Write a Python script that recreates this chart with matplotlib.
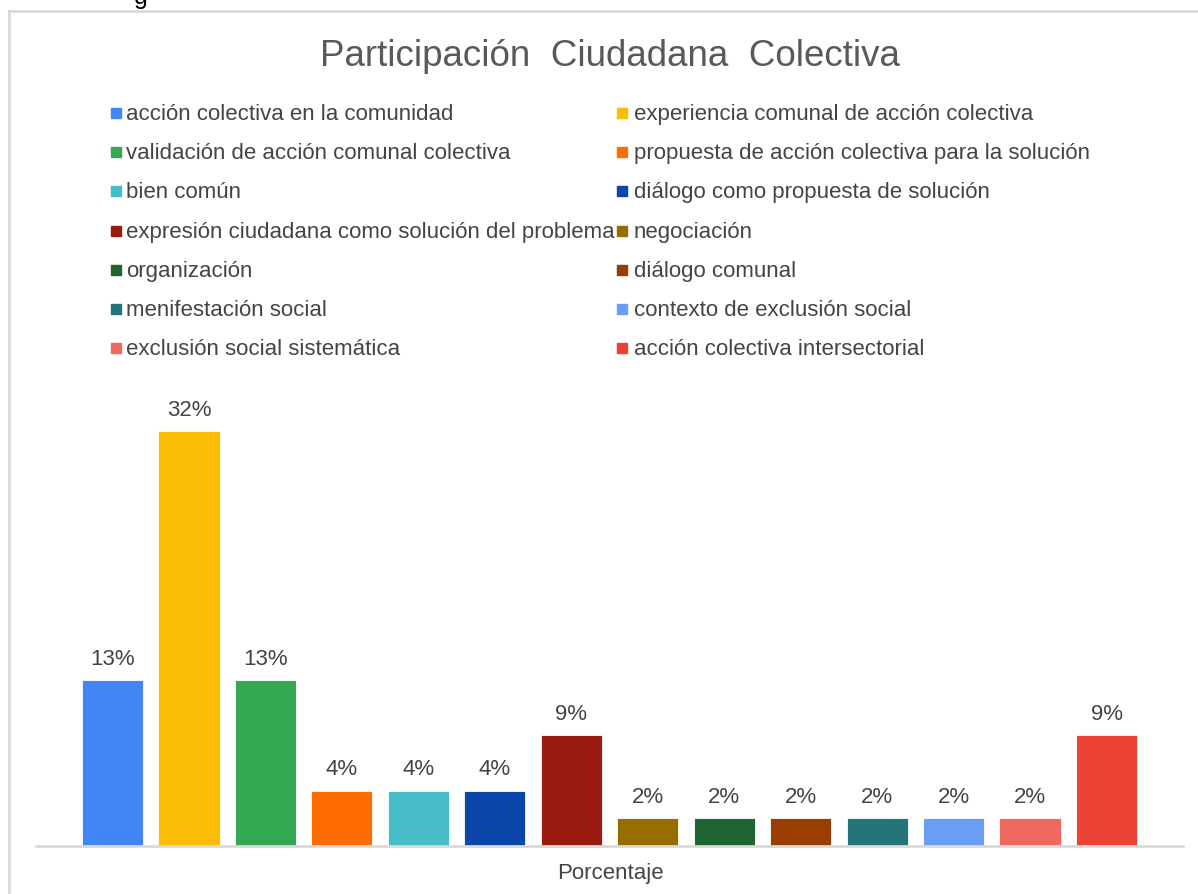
import matplotlib.pyplot as plt
from matplotlib.patches import Rectangle
from matplotlib.lines import Line2D

plt.rcParams['font.family'] = ['Liberation Sans', 'DejaVu Sans']

# data: counts out of 47 responses, shown as percentages
categories = [
    'acción colectiva en la comunidad',
    'experiencia comunal de acción colectiva',
    'validación de acción comunal colectiva',
    'propuesta de acción colectiva para la solución',
    'bien común',
    'diálogo como propuesta de solución',
    'expresión ciudadana como solución del problema',
    'negociación',
    'organización',
    'diálogo comunal',
    'menifestación social',
    'contexto de exclusión social',
    'exclusión social sistemática',
    'acción colectiva intersectorial',
]
percentages = [12.77, 31.91, 12.77, 4.26, 4.26, 4.26, 8.51, 2.13, 2.13, 2.13, 2.13, 2.13, 2.13, 8.51]
colors = ['#4285F4', '#FBBC04', '#34A853', '#FF6D01', '#46BDC6', '#0B47AA',
          '#9A1A10', '#966E00', '#1E6532', '#9A3E00', '#247577', '#6A9EF5',
          '#EE6A5F', '#EA4335']

W, H = 1198, 894
fig = plt.figure(figsize=(W / 100, H / 100), dpi=100)

# axes placed in pixel terms
left, right, bottom, top = 36, 1183, 846, 405
ax = fig.add_axes([left / W, 1 - bottom / H, (right - left) / W, (bottom - top) / H])

xs = list(range(len(percentages)))
bars = ax.bar(xs, percentages, width=0.8, color=colors, edgecolor='white', linewidth=0.6)
for x, v in zip(xs, percentages):
    ax.annotate('%.0f%%' % v, (x, v), xytext=(0, 11), textcoords='offset points',
                ha='center', va='baseline', fontsize=16, color='#444444')

ax.set_xlim(-1, 14)
ax.set_ylim(0, (bottom - top) / 13.0)
for s in ['top', 'right', 'left']:
    ax.spines[s].set_visible(False)
ax.spines['bottom'].set_color('#d9d9d9')
ax.spines['bottom'].set_linewidth(2)
ax.set_xticks([])
ax.set_yticks([])

# title and axis label
fig.text(610 / W, 1 - 66 / H, 'Participación  Ciudadana  Colectiva', ha='center',
         va='baseline', fontsize=26.5, color='#595959')
fig.text(610 / W, 1 - 879 / H, 'Porcentaje', ha='center', va='baseline',
         fontsize=16, color='#444444')

# legend, two columns filled row by row
col_x = [111, 617]
text_x = [126, 634]
for i, (lab, c) in enumerate(zip(categories, colors)):
    col, row = i % 2, i // 2
    base = 120 + row * 39.2
    fig.patches.append(Rectangle((col_x[col] / W, 1 - (base - 2) / H), 10 / W, 10 / H,
                                 transform=fig.transFigure, color=c, figure=fig))
    fig.text(text_x[col] / W, 1 - base / H, lab, ha='left', va='baseline',
             fontsize=16, color='#444444')

# chart frame (top and left edges)
fig.lines.append(Line2D([9 / W, 1197 / W], [1 - 11 / H, 1 - 11 / H], transform=fig.transFigure,
                        color='#d9d9d9', linewidth=2))
fig.lines.append(Line2D([9 / W, 9 / W], [1 - 11 / H, 0], transform=fig.transFigure,
                        color='#d9d9d9', linewidth=2))
fig.text(134 / W, 1 - 4 / H, 'g', ha='left', va='baseline', fontsize=18, color='#000000')

fig.savefig('out.png', dpi=100)
